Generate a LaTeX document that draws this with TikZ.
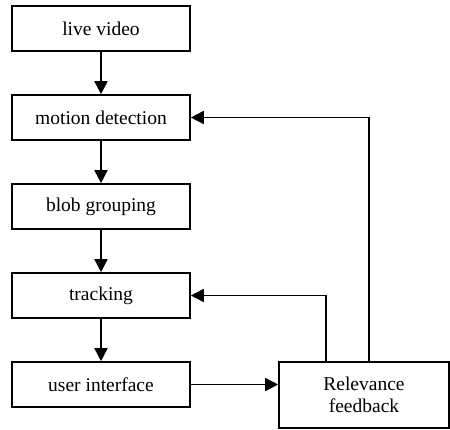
\documentclass[tikz,border=0pt]{standalone}
\usepackage{fontspec}
\setmainfont{Liberation Serif}
\newfontfamily\tnr{Liberation Serif}
\usetikzlibrary{arrows.meta}
\begin{document}
\begin{tikzpicture}[x=1pt,y=-1pt,
  stagebox/.style={draw,line width=1.6pt,minimum width=178pt,minimum height=45pt,inner sep=0pt,font=\tnr\fontsize{19.5}{21.5}\selectfont},
  arr/.style={line width=1.6pt,-{Triangle[length=13pt,width=13pt]}},
  plain/.style={line width=1.6pt}]
\useasboundingbox (0,0) rectangle (450,430);
\node[stagebox] (lv) at (101,28.5) {live video};
\node[stagebox] (md) at (101,117.5) {motion detection};
\node[stagebox] (bg) at (101,206.5) {blob grouping};
\node[stagebox] (tr) at (101,295.5) {tracking};
\node[stagebox] (ui) at (101,384.5) {user interface};
\node[stagebox,minimum width=170pt,minimum height=66pt,align=center] (rf) at (364,395) {Relevance\\feedback};
\draw[arr] (lv) -- (md);
\draw[arr] (md) -- (bg);
\draw[arr] (bg) -- (tr);
\draw[arr] (tr) -- (ui);
\draw[arr] (ui.east) -- (ui.east -| rf.west);
\draw[arr] ([xshift=5pt]rf.north) |- (md.east);
\draw[arr] ([xshift=-38pt]rf.north) |- (tr.east);
\end{tikzpicture}
\end{document}
